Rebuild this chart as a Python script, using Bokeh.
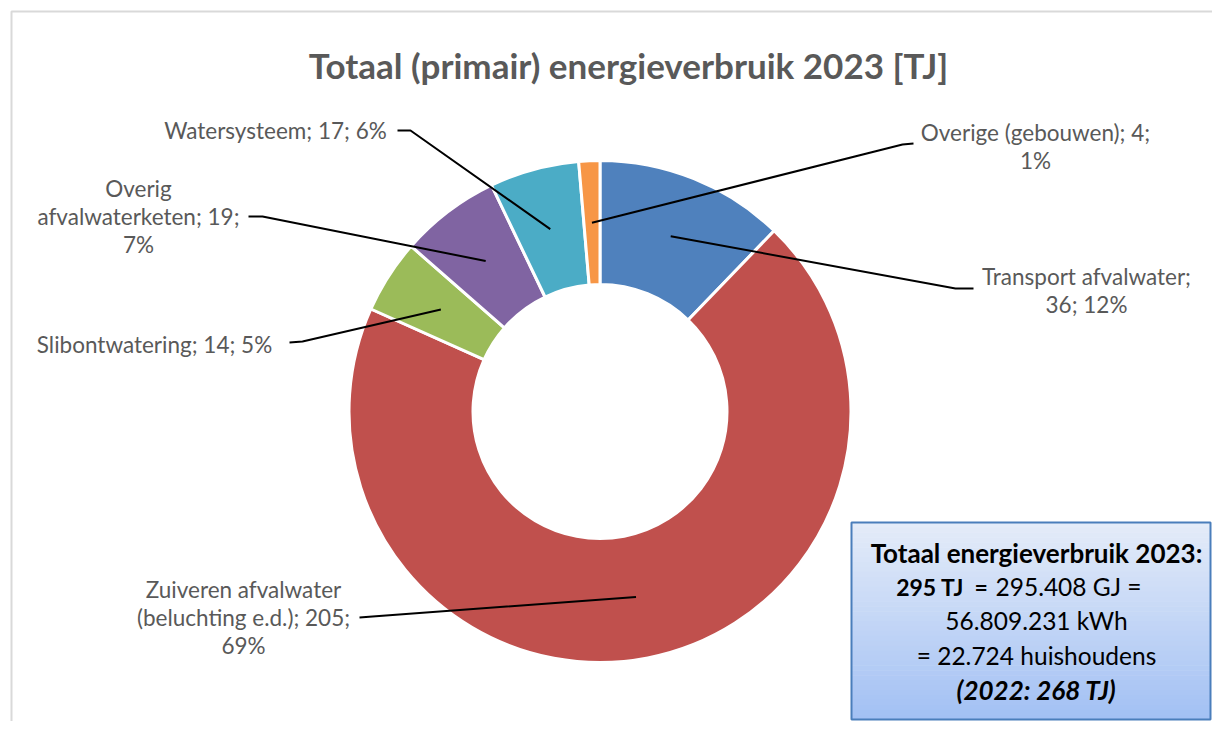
import math
import numpy as np
from bokeh.plotting import figure
from bokeh.models import Range1d, ColumnDataSource
from bokeh.core.properties import value
from bokeh.embed import file_html
from bokeh.resources import INLINE

# ---------------- data ----------------
title_text = "Totaal (primair) energieverbruik 2023 [TJ]"
categories = ["Transport afvalwater", "Zuiveren afvalwater\n(beluchting e.d.)", "Slibontwatering",
              "Overig\nafvalwaterketen", "Watersysteem", "Overige (gebouwen)"]
values_tj = [36, 205, 14, 19, 17, 4]
percents = [12, 69, 5, 7, 6, 1]
colors = ["#4F81BD", "#C0504D", "#9BBB59", "#8064A2", "#4BACC6", "#F79646"]
label_formats = ["{c};\n{v}; {p}%", "{c}; {v};\n{p}%", "{c}; {v}; {p}%",
                 "{c}; {v};\n{p}%", "{c}; {v}; {p}%", "{c}; {v};\n{p}%"]

box_title = "Totaal energieverbruik 2023:"
box_total_bold = "295 TJ\u00a0 ="
box_total_rest = "295.408 GJ ="
box_kwh = "56.809.231 kWh"
box_households = "= 22.724 huishoudens"
box_previous = "(2022: 268 TJ)"

# ---------------- layout (reference pixel coords, y downward) ----------------
W, H = 1212, 721
def Y(y):
    return H - y

CX, CY = 599.5, Y(411)
R_OUT, R_IN = 251, 127
R_MID = (R_OUT + R_IN) / 2

label_pos = [(1086, 290), (243, 617), (154, 344), (138, 216), (275, 130), (1035, 146)]
elbow_pos = [(955, 288), (372, 616), (302, 341), (262, 216), (410, 130), (902, 144)]
end_pos = [(973, 288), (359, 617), (289, 342), (248, 216), (397, 130), (913, 143)]

FONT = "Lato"
GREY = "#595959"

p = figure(width=W, height=H, x_range=Range1d(0, W), y_range=Range1d(0, H),
           output_backend="svg", toolbar_location=None, min_border=0,
           x_axis_location=None, y_axis_location=None, title=None)
p.outline_line_color = None
p.xgrid.visible = False
p.ygrid.visible = False
p.background_fill_color = "white"
p.border_fill_color = "white"

# chart area frame (light grey)
p.quad(left=[11], right=[1300], top=[Y(11)], bottom=[Y(800)], fill_color=None,
       line_color="#D9D9D9", line_width=2)

# donut
total = sum(values_tj)
cum = np.concatenate([[0], np.cumsum(values_tj)])
start = np.pi / 2 - 2 * np.pi * cum[:-1] / total
end = np.pi / 2 - 2 * np.pi * cum[1:] / total
src = ColumnDataSource(dict(start=start, end=end, color=colors))
p.annular_wedge(x=CX, y=CY, inner_radius=R_IN, outer_radius=R_OUT,
                start_angle="start", end_angle="end", direction="clock",
                fill_color="color", line_color="white", line_width=3, source=src)

# leader lines
mid = np.pi / 2 - 2 * np.pi * (cum[:-1] + np.array(values_tj) / 2) / total
xs, ys = [], []
for i in range(len(values_tj)):
    sx = CX + R_MID * math.cos(mid[i])
    sy = CY + R_MID * math.sin(mid[i])
    xs.append([sx, elbow_pos[i][0], end_pos[i][0]])
    ys.append([sy, Y(elbow_pos[i][1]), Y(end_pos[i][1])])
p.multi_line(xs=xs, ys=ys, line_color="black", line_width=2)

# labels
labels = [label_formats[i].format(c=categories[i], v=values_tj[i], p=percents[i])
          for i in range(len(values_tj))]
p.text(x=[lp[0] for lp in label_pos], y=[Y(lp[1]) for lp in label_pos], text=labels,
       text_font=value(FONT), text_font_size="22.5px", text_color=GREY,
       text_align="center", text_baseline="middle", text_line_height=1.05)

# title
p.text(x=[628], y=[Y(64)], text=[title_text], text_font=value(FONT), text_font_size="35px",
       text_font_style="bold", text_color=GREY, text_align="center", text_baseline="middle")

# info box with vertical gradient
BX0, BX1, BY0, BY1 = 851, 1210, 522, 719
n = 40
top_c = np.array([0xE4, 0xEC, 0xF9])
bot_c = np.array([0xA3, 0xC1, 0xF4])
band_t, band_b, band_col = [], [], []
for k in range(n):
    f = k / (n - 1)
    c = (top_c + (bot_c - top_c) * f).astype(int)
    band_t.append(Y(BY0 + (BY1 - BY0) * k / n))
    band_b.append(Y(BY0 + (BY1 - BY0) * (k + 1) / n) - 0.5)
    band_col.append("#%02x%02x%02x" % tuple(c))
p.quad(left=BX0, right=BX1, top=band_t, bottom=band_b, fill_color=band_col, line_color=None)
p.quad(left=[BX0], right=[BX1], top=[Y(BY0)], bottom=[Y(BY1)], fill_color=None,
       line_color="#4A7EBB", line_width=2)

BC = 1036
p.text(x=[BC], y=[Y(552)], text=[box_title], text_font=value(FONT), text_font_size="26px",
       text_font_style="bold", text_color="black", text_align="center", text_baseline="middle")
p.text(x=[988], y=[Y(586)], text=[box_total_bold], text_font=value(FONT), text_font_size="23px",
       text_font_style="bold", text_color="black", text_align="right", text_baseline="middle")
p.text(x=[995], y=[Y(586)], text=[box_total_rest], text_font=value(FONT), text_font_size="24.5px",
       text_color="black", text_align="left", text_baseline="middle")
p.text(x=[BC], y=[Y(620)], text=[box_kwh], text_font=value(FONT), text_font_size="24.5px",
       text_color="black", text_align="center", text_baseline="middle")
p.text(x=[BC], y=[Y(655)], text=[box_households], text_font=value(FONT), text_font_size="24.5px",
       text_color="black", text_align="center", text_baseline="middle")
p.text(x=[BC], y=[Y(689)], text=[box_previous], text_font=value(FONT), text_font_size="26px",
       text_font_style="bold italic", text_color="black", text_align="center", text_baseline="middle")

open("out.html", "w").write(file_html(p, INLINE))
